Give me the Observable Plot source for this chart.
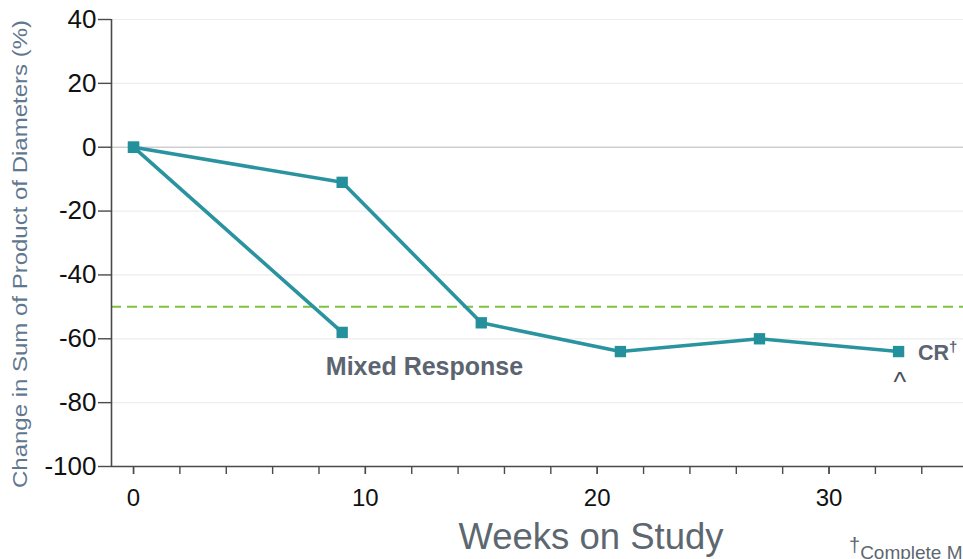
<!DOCTYPE html>
<html>
<head>
<meta charset="utf-8">
<script src="https://cdn.jsdelivr.net/npm/d3@7"></script>
<script src="https://cdn.jsdelivr.net/npm/@observablehq/plot@0.6"></script>
<style>
  html, body { margin: 0; padding: 0; background: #fff; }
  #chart { width: 963px; height: 559px; }
</style>
</head>
<body>
<div id="chart"></div>
<script>
// ---- data ----
const seriesNames = ["Mixed", "CR"];
const mixedWeeks = [0, 9];
const mixedValues = [0, -58];
const crWeeks = [0, 9, 15, 21, 27, 33];
const crValues = [0, -11, -55, -64, -60, -64];
const yTicks = [-100, -80, -60, -40, -20, 0, 20, 40];
const xTicks = [0, 10, 20, 30];
const xMinorTicks = [0, 2, 4, 6, 8, 10, 12, 14, 16, 18, 20, 22, 24, 26, 28, 30, 32, 34];
const threshold = [-50];
const yTitle = "Change in Sum of Product of Diameters (%)";
const xTitle = "Weeks on Study";
const mixedLabel = "Mixed Response";
const crLabel = "CR";
const footnote = "Complete Metabolic Response";

const rows = [
  ...mixedWeeks.map((w, i) => ({series: seriesNames[0], week: w, pct: mixedValues[i]})),
  ...crWeeks.map((w, i) => ({series: seriesNames[1], week: w, pct: crValues[i]}))
];

const teal = "#2a93a0";
const axisColor = "#4a4a4a";
const font = "'Liberation Sans', Arial, Helvetica, sans-serif";
const xMin = -0.95, xMax = 35.8;

const chart = Plot.plot({
  width: 963,
  height: 559,
  marginLeft: 111,
  marginRight: 0,
  marginTop: 19,
  marginBottom: 93,
  style: {fontFamily: font, background: "#fff", overflow: "visible"},
  x: {domain: [xMin, xMax]},
  y: {domain: [-100, 40]},
  marks: [
    Plot.ruleY(yTicks.filter(d => d !== 0 && d !== -100), {stroke: "#ededed", strokeWidth: 1.2}),
    Plot.ruleY([0], {stroke: "#cfcfcf", strokeWidth: 1.4}),
    Plot.ruleY(threshold, {stroke: "#7dc242", strokeWidth: 2, strokeDasharray: "10,6"}),
    Plot.line(rows, {x: "week", y: "pct", z: "series", stroke: teal, strokeWidth: 3.6}),
    Plot.dot(rows, {x: "week", y: "pct", symbol: "square", r: 6.4, fill: "#23909c", stroke: "none"}),
    Plot.ruleX([xMin], {stroke: axisColor, strokeWidth: 1.6}),
    Plot.ruleY([-100], {stroke: axisColor, strokeWidth: 1.6}),
    Plot.axisY(yTicks, {tickSize: 13, tickPadding: 2, fontSize: 26, fill: "#111", stroke: axisColor, strokeWidth: 1.4, label: null, tickFormat: d => String(d)}),
    Plot.axisX(xMinorTicks, {tickSize: 8, text: null, stroke: axisColor, strokeWidth: 1.4, label: null}),
    Plot.axisX(xTicks, {tickSize: 8, tickPadding: 14, fontSize: 24, fill: "#111", stroke: axisColor, strokeWidth: 1.4, label: null, tickFormat: d => String(d)}),
    Plot.text([mixedLabel], {x: () => 12.55, y: () => -68.8, text: d => d, fontSize: 25, fontWeight: "bold", fill: "#5b6470", textAnchor: "middle"}),
    Plot.text(["^"], {x: () => 33.05, y: () => -73.5, text: d => d, fontSize: 27, fill: "#4a5058", textAnchor: "middle"})
  ]
});

document.getElementById("chart").appendChild(chart);

const svg = d3.select(chart);

// CR† label
const cr = svg.append("text")
  .attr("x", 918).attr("y", 360)
  .attr("text-anchor", "start")
  .attr("font-family", font).attr("font-size", 21.5).attr("font-weight", "bold")
  .attr("fill", "#5b6470");
cr.append("tspan").text(crLabel);
cr.append("tspan").attr("font-size", 15).attr("dy", -8).text("\u2020");

// Y title
svg.append("text")
  .attr("transform", "translate(27,254) rotate(-90)")
  .attr("text-anchor", "middle")
  .attr("font-family", font).attr("font-size", 21)
  .attr("fill", "#5f7890")
  .attr("textLength", 468).attr("lengthAdjust", "spacingAndGlyphs")
  .text(yTitle);

// X title
svg.append("text")
  .attr("x", 591).attr("y", 549)
  .attr("text-anchor", "middle")
  .attr("font-family", font).attr("font-size", 36.5)
  .attr("fill", "#5d6770")
  .text(xTitle);

// Footnote
const fn = svg.append("text")
  .attr("x", 849).attr("y", 559)
  .attr("text-anchor", "start")
  .attr("font-family", font).attr("font-size", 19)
  .attr("fill", "#5d6770");
fn.append("tspan").attr("font-size", 20).attr("dy", -7).text("\u2020");
fn.append("tspan").attr("dy", 7).text(footnote);
</script>
</body>
</html>
